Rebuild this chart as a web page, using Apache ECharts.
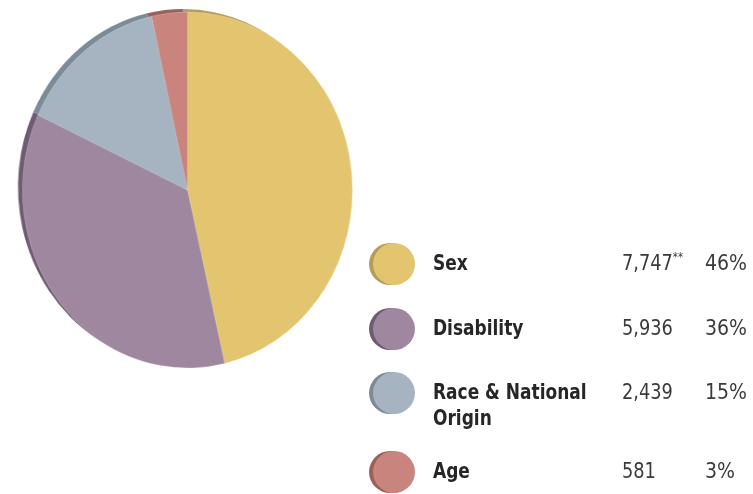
<!DOCTYPE html>
<html>
<head>
<meta charset="utf-8">
<script src="https://cdn.jsdelivr.net/npm/echarts@6/dist/echarts.min.js"></script>
<style>
  html, body { margin: 0; padding: 0; background: #ffffff; }
  #wrap { position: relative; width: 753px; height: 494px; overflow: hidden; }
  #pie { position: absolute; left: 0; top: 0; width: 420px; height: 494px;
         transform: scaleX(0.927); transform-origin: 0 0; }
  #legend { position: absolute; left: 0; top: 0; width: 753px; height: 494px; }
</style>
</head>
<body>
<div id="wrap">
  <div id="pie"></div>
  <div id="legend"></div>
</div>
<script>
// Complaint categories and their counts
const categories = ['Sex', 'Disability', 'Race & National\nOrigin', 'Age'];
const counts = [7747, 5936, 2439, 581];
const countLabels = ['7,747', '5,936', '2,439', '581'];
const footnoteMarks = ['**', '', '', ''];
const percents = [46, 36, 15, 3];

// Face colours and darker edge colours for the tilted look
const faceColors = ['#e3c56f', '#9f889f', '#a6b3c0', '#c9847e'];
const edgeColors = ['#b59c58', '#6f5c72', '#7c8b98', '#9a605c'];

const FONT = '"Liberation Sans Narrow", "DejaVu Sans Condensed", "Arial Narrow", sans-serif';

const pieData = categories.map((c, i) => ({ name: c, value: counts[i], itemStyle: { color: faceColors[i] } }));
const edgeData = categories.map((c, i) => ({ name: c, value: counts[i], itemStyle: { color: edgeColors[i] } }));

const sx = 0.927; // horizontal squash of the pie container
const pieChart = echarts.init(document.getElementById('pie'), null, { renderer: 'canvas' });
pieChart.setOption({
  animation: false,
  series: [
    {
      type: 'pie', silent: true, startAngle: 90, clockwise: true,
      center: [183 / sx, 187], radius: 178,
      label: { show: false }, labelLine: { show: false },
      data: edgeData, z: 1
    },
    {
      type: 'pie', silent: true, startAngle: 90, clockwise: true,
      center: [187.5 / sx, 190], radius: 178,
      label: { show: false }, labelLine: { show: false },
      itemStyle: { borderColor: 'rgba(255,255,255,0.35)', borderWidth: 0.6 },
      data: pieData, z: 2
    }
  ]
});

// Legend rows: disc, label, count, share
const rowY = [264, 329, 393, 472];
const elements = [];
categories.forEach((c, i) => {
  const cy = rowY[i];
  elements.push({ type: 'circle', shape: { cx: 390, cy: cy, r: 21 }, style: { fill: edgeColors[i] }, z: 1 });
  elements.push({ type: 'circle', shape: { cx: 394, cy: cy, r: 21 }, style: { fill: faceColors[i] }, z: 2 });
  elements.push({ type: 'text', x: 433, y: cy - 12, scaleX: 0.9, style: {
    text: c, font: 'bold 21px ' + FONT, fill: '#262626', lineHeight: 26, verticalAlign: 'top'
  }, z: 3 });
  elements.push({ type: 'text', x: 622, y: cy - 12, scaleX: 0.94, style: {
    text: '{n|' + countLabels[i] + '}' + (footnoteMarks[i] ? '{s|' + footnoteMarks[i] + '}' : ''),
    rich: {
      n: { font: '21px ' + FONT, fill: '#3a3a3a', lineHeight: 26, verticalAlign: 'middle' },
      s: { font: '12px ' + FONT, fill: '#3a3a3a', lineHeight: 14, verticalAlign: 'top' }
    },
    verticalAlign: 'top'
  }, z: 3 });
  elements.push({ type: 'text', x: 705, y: cy - 12, style: {
    text: percents[i] + '%', font: '21px ' + FONT, fill: '#3a3a3a', lineHeight: 26, verticalAlign: 'top'
  }, z: 3 });
});

const legendChart = echarts.init(document.getElementById('legend'), null, { renderer: 'canvas' });
legendChart.setOption({ animation: false, graphic: { elements: elements } });
</script>
</body>
</html>
